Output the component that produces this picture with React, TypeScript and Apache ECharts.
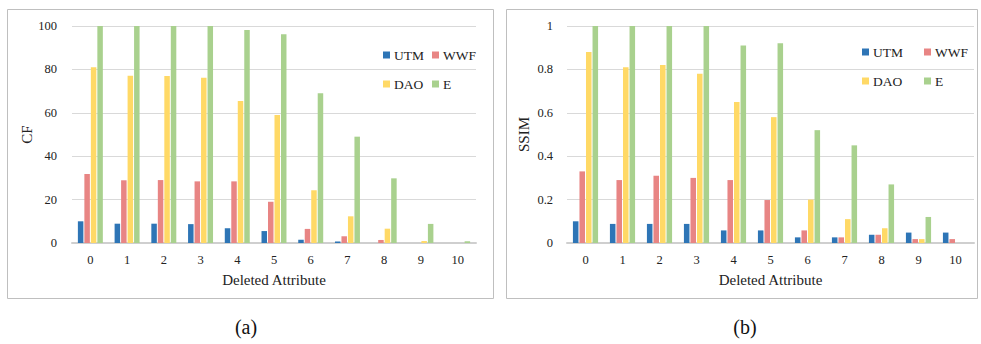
import React, { useEffect, useRef } from "react";
import * as echarts from "echarts";

const categories = ["0", "1", "2", "3", "4", "5", "6", "7", "8", "9", "10"];
const seriesNames = ["UTM", "WWF", "DAO", "E"];
const seriesColors = ["#2E75B6", "#E88584", "#FFD966", "#A9D18E"];

const cfUTM = [10, 8.9, 8.9, 8.7, 6.8, 5.5, 1.5, 0.7, 0, 0, 0];
const cfWWF = [31.8, 28.9, 29, 28.4, 28.4, 19, 6.5, 3.1, 1.4, 0, 0];
const cfDAO = [81, 77.1, 77, 76.2, 65.4, 59, 24.3, 12.3, 6.6, 0.9, 0];
const cfE = [100, 100, 100, 100, 98.2, 96.2, 69, 49, 29.8, 8.8, 0.8];

const ssimUTM = [0.1, 0.088, 0.088, 0.088, 0.058, 0.058, 0.026, 0.026, 0.038, 0.048, 0.048];
const ssimWWF = [0.33, 0.29, 0.31, 0.3, 0.29, 0.198, 0.058, 0.026, 0.038, 0.018, 0.018];
const ssimDAO = [0.88, 0.81, 0.82, 0.78, 0.65, 0.58, 0.2, 0.11, 0.068, 0.018, 0];
const ssimE = [1, 1, 1, 1, 0.91, 0.92, 0.52, 0.45, 0.27, 0.12, 0];

const cfTitle = "CF";
const ssimTitle = "SSIM";
const xTitle = "Deleted Attribute";
const captions = ["(a)", "(b)"];

const FONT = "Liberation Serif";
const TEXT = "#222222";

export default function App() {
  const ref = useRef<HTMLDivElement>(null);

  useEffect(() => {
    if (!ref.current) return;
    const chart = echarts.init(ref.current, null, { renderer: "svg" });

    const grids = [
      { left: 72, top: 26, width: 404, height: 217 },
      { left: 567, top: 26, width: 407, height: 217 },
    ];

    const xAxes = grids.map((_, i) => ({
      type: "category" as const,
      gridIndex: i,
      data: categories,
      name: xTitle,
      nameLocation: "middle" as const,
      nameGap: 29,
      nameTextStyle: { fontFamily: FONT, fontSize: 15, color: TEXT },
      axisLine: { show: true, lineStyle: { color: "#CFCFCF", width: 2 } },
      axisTick: { show: false },
      axisLabel: { interval: 0, margin: 10, fontFamily: FONT, fontSize: 12.5, color: TEXT },
    }));

    const yAxes = [
      {
        type: "value" as const,
        gridIndex: 0,
        min: 0,
        max: 100,
        interval: 20,
        name: cfTitle,
        nameLocation: "middle" as const,
        nameGap: 38,
        nameTextStyle: { fontFamily: FONT, fontSize: 15, color: TEXT },
        axisLine: { show: false },
        axisTick: { show: false },
        axisLabel: { margin: 15, fontFamily: FONT, fontSize: 12.5, color: TEXT },
        splitLine: { lineStyle: { color: "#D9D9D9", width: 1 } },
      },
      {
        type: "value" as const,
        gridIndex: 1,
        min: 0,
        max: 1,
        interval: 0.2,
        name: ssimTitle,
        nameLocation: "middle" as const,
        nameGap: 36,
        nameTextStyle: { fontFamily: FONT, fontSize: 15, color: TEXT },
        axisLine: { show: false },
        axisTick: { show: false },
        axisLabel: { margin: 14, fontFamily: FONT, fontSize: 12.5, color: TEXT },
        splitLine: { lineStyle: { color: "#D9D9D9", width: 1 } },
      },
    ];

    const cfData = [cfUTM, cfWWF, cfDAO, cfE];
    const ssimData = [ssimUTM, ssimWWF, ssimDAO, ssimE];

    const series: any[] = [];
    [cfData, ssimData].forEach((set, gi) => {
      set.forEach((vals, si) => {
        series.push({
          type: "bar",
          name: seriesNames[si],
          xAxisIndex: gi,
          yAxisIndex: gi,
          data: vals,
          barGap: "18%",
          barCategoryGap: "32%",
          itemStyle: { color: seriesColors[si] },
        });
      });
    });

    const legendPos = [
      { name: "UTM", left: 383, cy: 55 },
      { name: "WWF", left: 432, cy: 55 },
      { name: "DAO", left: 383, cy: 84 },
      { name: "E", left: 432, cy: 84 },
      { name: "UTM", left: 862, cy: 52 },
      { name: "WWF", left: 924, cy: 52 },
      { name: "DAO", left: 862, cy: 81 },
      { name: "E", left: 924, cy: 81 },
    ];

    const legends = legendPos.map((p) => ({
      data: [p.name],
      left: p.left,
      top: p.cy - 7,
      padding: 0,
      itemWidth: 7,
      itemHeight: 7,
      itemGap: 4,
      icon: "rect",
      textStyle: { fontFamily: FONT, fontSize: 13.5, color: TEXT, padding: [0, 0, 0, -1] },
    }));

    const graphic: any[] = [
      {
        type: "rect",
        shape: { x: 7.5, y: 9.5, width: 486, height: 289 },
        style: { fill: "none", stroke: "#BFBFBF", lineWidth: 1 },
        z: -10,
      },
      {
        type: "rect",
        shape: { x: 506.5, y: 9.5, width: 471, height: 289 },
        style: { fill: "none", stroke: "#BFBFBF", lineWidth: 1 },
        z: -10,
      },
      {
        type: "text",
        x: 246,
        y: 327,
        style: {
          text: captions[0],
          fontFamily: FONT,
          fontSize: 20,
          fill: "#111",
          align: "center",
          verticalAlign: "middle",
        },
      },
      {
        type: "text",
        x: 745,
        y: 327,
        style: {
          text: captions[1],
          fontFamily: FONT,
          fontSize: 20,
          fill: "#111",
          align: "center",
          verticalAlign: "middle",
        },
      },
    ];

    chart.setOption({
      animation: false,
      backgroundColor: "#ffffff",
      grid: grids,
      xAxis: xAxes,
      yAxis: yAxes,
      legend: legends,
      series,
      graphic,
    });

    return () => chart.dispose();
  }, []);

  return (
    <div
      ref={ref}
      style={{ position: "absolute", left: 0, top: 0, width: 981, height: 344 }}
    />
  );
}
